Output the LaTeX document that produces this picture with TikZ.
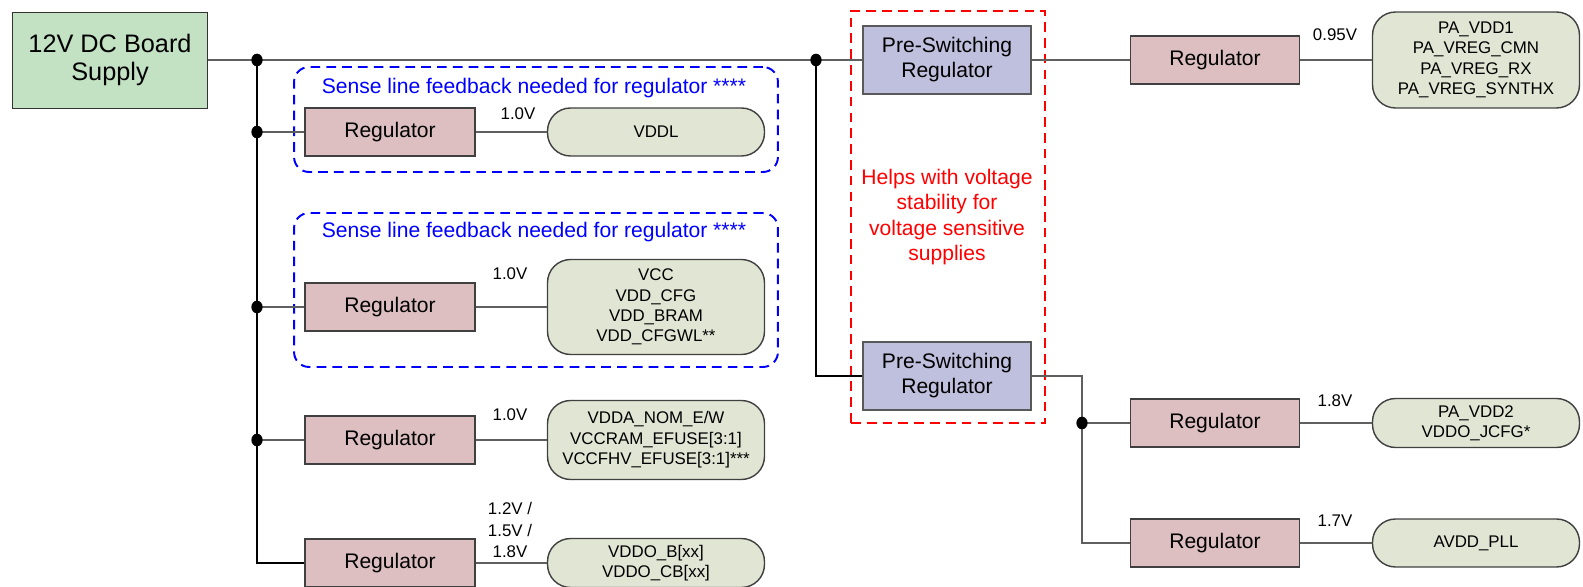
\documentclass[tikz,border=0pt]{standalone}
\usepackage{fontspec}
\setmainfont{Liberation Sans}
\usetikzlibrary{positioning}

\definecolor{supplygreen}{RGB}{195,225,195}
\definecolor{regpink}{RGB}{221,191,193}
\definecolor{prelav}{RGB}{191,192,222}
\definecolor{railgrey}{RGB}{225,229,212}
\definecolor{wiregrey}{RGB}{95,95,95}

\tikzset{
  supplybox/.style={draw=black!80, fill=supplygreen, minimum width=3.9cm, minimum height=1.92cm, align=center, font=\fontsize{14.4}{16}\selectfont},
  regbox/.style={draw=black!75, fill=regpink, minimum width=3.4cm, minimum height=0.96cm, line width=0.8pt, font=\fontsize{12}{14}\selectfont},
  prebox/.style={draw=black!65, fill=prelav, minimum width=3.36cm, minimum height=1.36cm, line width=0.8pt, align=center, font=\fontsize{12}{14.2}\selectfont},
  railbox/.style={draw=black!75, fill=railgrey, rounded corners=0.46cm, minimum width=4.34cm, line width=0.8pt, align=center, font=\fontsize{9.6}{11.6}\selectfont},
  volt/.style={inner sep=0pt, align=center, font=\fontsize{9.6}{12.5}\selectfont},
  wire/.style={draw=wiregrey, line width=0.75pt},
  bus/.style={draw=black, line width=0.6pt},
  sensebox/.style={draw=blue, dash pattern=on 5.5pt off 3.5pt, line width=1.1pt, rounded corners=0.3cm, minimum width=9.68cm},
  notebox/.style={draw=red, dash pattern=on 5.5pt off 3.5pt, line width=1.1pt, minimum width=3.88cm, minimum height=8.24cm},
  jdot/.style={fill=black},
}

\begin{document}
\begin{tikzpicture}[x=0.02cm, y=-0.02cm]
\useasboundingbox (0,0) rectangle (1583,587);

% dashed groups
\node[sensebox, minimum height=2.1cm] (senseA) at (536,119.5) {};
\node[sensebox, minimum height=3.08cm] (senseB) at (536,290) {};
\node[notebox] (note) at (948,217) {};
\node[text=blue, font=\fontsize{12}{14}\selectfont] (senseAtxt) at (534,88) {Sense line feedback needed for regulator ****};
\node[text=blue, font=\fontsize{12}{14}\selectfont] (senseBtxt) at (534,232) {Sense line feedback needed for regulator ****};
\node[text=red, align=center, font=\fontsize{12}{14.3}\selectfont] (notetxt) at (947,217) {Helps with voltage\\stability for\\voltage sensitive\\supplies};

% source and pre-switching
\node[supplybox] (supply) at (110,60) {12V DC Board\\Supply};
\node[prebox] (psrA) at (947,60) {Pre-Switching\\Regulator};
\node[prebox] (psrB) at (947,376) {Pre-Switching\\Regulator};

% left branch
\node[regbox] (regA) at (390,132) {Regulator};
\node[regbox] (regB) at (390,307) {Regulator};
\node[regbox] (regC) at (390,440) {Regulator};
\node[regbox] (regD) at (390,563) {Regulator};
\node[railbox, minimum height=0.96cm] (railA) at (656,132) {VDDL};
\node[railbox, minimum height=1.9cm] (railB) at (656,307) {VCC\\VDD\_CFG\\VDD\_BRAM\\VDD\_CFGWL**};
\node[railbox, minimum height=1.58cm] (railC) at (656,440) {VDDA\_NOM\_E/W\\VCCRAM\_EFUSE[3:1]\\VCCFHV\_EFUSE[3:1]***};
\node[railbox, minimum height=0.98cm] (railD) at (656,563) {VDDO\_B[xx]\\VDDO\_CB[xx]};
\node[volt] (vA) at (518,114) {1.0V};
\node[volt] (vB) at (510,274) {1.0V};
\node[volt] (vC) at (510,415) {1.0V};
\node[volt] (vD) at (510,530) {1.2V /\\1.5V /\\1.8V};

% right branch
\node[regbox, minimum width=3.38cm] (regE) at (1215,60) {Regulator};
\node[regbox, minimum width=3.38cm] (regF) at (1215,423) {Regulator};
\node[regbox, minimum width=3.38cm] (regG) at (1215,543) {Regulator};
\node[railbox, minimum width=4.14cm, minimum height=1.92cm] (railE) at (1476,60) {PA\_VDD1\\PA\_VREG\_CMN\\PA\_VREG\_RX\\PA\_VREG\_SYNTHX};
\node[railbox, minimum width=4.14cm, minimum height=0.98cm] (railF) at (1476,423) {PA\_VDD2\\VDDO\_JCFG*};
\node[railbox, minimum width=4.14cm, minimum height=0.96cm] (railG) at (1476,543) {AVDD\_PLL};
\node[volt] (vE) at (1335,35) {0.95V};
\node[volt] (vF) at (1335,401) {1.8V};
\node[volt] (vG) at (1335,521) {1.7V};

% junctions
\coordinate (j0) at (257,60);
\coordinate (j1) at (816,60);
\coordinate (j2) at (1082,423);

% wiring
\draw[wire] (supply.east) -- (psrA.west);
\draw[bus] (j0) |- (regD.west);
\draw[bus] (j1) |- (psrB.west);
\draw[wire] (j0 |- regA.west) -- (regA.west);
\draw[wire] (j0 |- regB.west) -- (regB.west);
\draw[wire] (j0 |- regC.west) -- (regC.west);
\draw[wire] (regA) -- (railA);
\draw[wire] (regB) -- (railB);
\draw[wire] (regC) -- (railC);
\draw[wire] (regD) -- (railD);
\draw[wire] (psrA) -- (regE);
\draw[wire] (regE) -- (railE);
\draw[wire] (psrB.east) -| (j2) |- (regG.west);
\draw[wire] (j2) -- (regF.west);
\draw[wire] (regF) -- (railF);
\draw[wire] (regG) -- (railG);

\foreach \p in {j0, j1, j2} \fill[jdot] (\p) ellipse [x radius=3.2pt, y radius=3.6pt];
\foreach \r in {regA, regB, regC} \fill[jdot] (j0 |- \r.west) ellipse [x radius=3.2pt, y radius=3.6pt];
\end{tikzpicture}
\end{document}
